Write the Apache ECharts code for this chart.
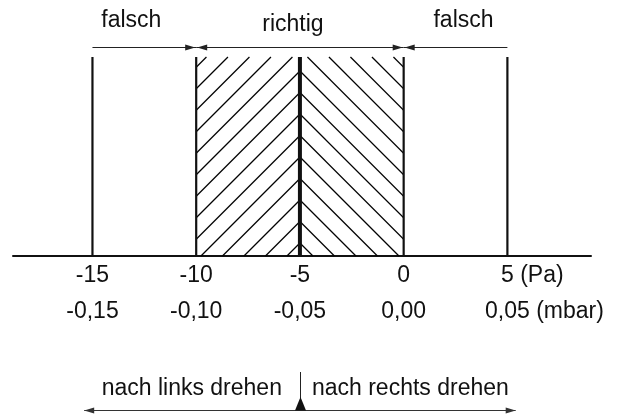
<!DOCTYPE html>
<html>
<head>
<meta charset="utf-8">
<script src="https://cdn.jsdelivr.net/npm/echarts@6/dist/echarts.min.js"></script>
<style>
  html, body { margin: 0; padding: 0; background: #fff; }
  #chart { width: 624px; height: 414px; }
</style>
</head>
<body>
<div id="chart"></div>
<script>
  // Druckwerte (Pa) der senkrechten Linien
  var boundaries = [-15, -10, -5, 0, 5];
  var centerValue = -5;
  var correctRange = [-10, 0];
  // Bereiche oben
  var zoneBounds = [-15, -10, 0, 5];
  var zoneNames = ['falsch', 'richtig', 'falsch'];
  // Achsenbeschriftung
  var paTicks = ['-15', '-10', '-5', '0', '5'];
  var mbarTicks = ['-0,15', '-0,10', '-0,05', '0,00', '0,05'];
  var paUnit = '(Pa)';
  var mbarUnit = '(mbar)';
  // Drehrichtung unten
  var dialRange = [-15.4, 5.4];
  var dialTexts = ['nach links drehen', 'nach rechts drehen'];

  var FONT = '"Liberation Sans", Arial, Helvetica, sans-serif';
  var FS = 23;
  var TXT = '#111';

  var measureCtx = document.createElement('canvas').getContext('2d');
  measureCtx.font = FS + 'px ' + FONT;
  function textWidth(s) { return measureCtx.measureText(s).width; }

  var chart = echarts.init(document.getElementById('chart'), null, {renderer: 'canvas'});

  function arrowHead(tipX, y, dir, color) {
    // dir: -1 zeigt nach links, 1 nach rechts
    var len = 10, half = 3;
    return {
      type: 'polygon',
      shape: {points: [[tipX, y], [tipX - dir * len, y - half], [tipX - dir * len, y + half]]},
      style: {fill: color}
    };
  }

  // Schraffur: links '/', rechts '\', Spitzen auf der Mittellinie
  function renderHatch(params, api) {
    var p0 = api.coord([api.value(0), 0]);
    var p1 = api.coord([api.value(1), 10]);
    var dir = api.value(2);
    var left = p0[0], right = p1[0], top = p1[1], bottom = p0[1];
    var w = right - left, step = 21.5;
    var children = [];
    for (var yc = bottom - 13; yc > top - w; yc -= step) {
      var dMin = Math.max(0, top - yc), dMax = Math.min(w, bottom - yc);
      if (dMax <= dMin) continue;
      var xa, xb;
      if (dir > 0) { xa = right - dMin; xb = right - dMax; }
      else { xa = left + dMin; xb = left + dMax; }
      children.push({
        type: 'line',
        shape: {x1: xa, y1: yc + dMin, x2: xb, y2: yc + dMax},
        style: {stroke: '#000', lineWidth: 1.2}
      });
    }
    return {type: 'group', children: children};
  }

  function renderVertical(params, api) {
    var v = api.value(0);
    var a = api.coord([v, 0]);
    var b = api.coord([v, 10]);
    return {
      type: 'line',
      shape: {x1: a[0], y1: a[1], x2: b[0], y2: b[1]},
      style: {stroke: '#111', lineWidth: v === centerValue ? 4 : 2.2}
    };
  }

  var zoneNudge = [-13, -7, 8];
  function renderZone(params, api) {
    var i = params.dataIndex;
    var from = api.value(0), to = api.value(1);
    var a = api.coord([from, 10.5]);
    var b = api.coord([to, 10.5]);
    var y = Math.round(a[1]) + 0.5;
    var col = '#222';
    var children = [{
      type: 'line',
      shape: {x1: a[0], y1: y, x2: b[0], y2: y},
      style: {stroke: col, lineWidth: 1.2}
    }];
    if (from === correctRange[0] || from === correctRange[1]) children.push(arrowHead(a[0] + 1, y, -1, col));
    if (to === correctRange[0] || to === correctRange[1]) children.push(arrowHead(b[0] - 1, y, 1, col));
    children.push({
      type: 'text',
      x: (a[0] + b[0]) / 2 + zoneNudge[i],
      y: y - (zoneNames[i] === 'richtig' ? 23 : 27),
      style: {text: zoneNames[i], fontSize: FS, fontFamily: FONT, fill: TXT, align: 'center', verticalAlign: 'middle'}
    });
    return {type: 'group', children: children};
  }

  function tickText(x, y, num, unit) {
    var els = [{
      type: 'text', x: x, y: y,
      style: {text: num, fontSize: FS, fontFamily: FONT, fill: TXT, align: 'center', verticalAlign: 'middle'}
    }];
    if (unit) {
      els.push({
        type: 'text', x: x + textWidth(num) / 2 + textWidth(' '), y: y,
        style: {text: unit, fontSize: FS, fontFamily: FONT, fill: TXT, align: 'left', verticalAlign: 'middle'}
      });
    }
    return els;
  }

  function renderTicks(params, api) {
    var i = params.dataIndex;
    var p = api.coord([api.value(0), 0]);
    var last = i === boundaries.length - 1;
    var children = tickText(p[0], p[1] + 20, paTicks[i], last ? paUnit : null)
      .concat(tickText(p[0], p[1] + 56, mbarTicks[i], last ? mbarUnit : null));
    return {type: 'group', children: children};
  }

  function renderDial(params, api) {
    var c = api.coord([api.value(0), 0]);
    var xl = api.coord([dialRange[0], 0])[0];
    var xr = api.coord([dialRange[1], 0])[0];
    var lineY = c[1] + 154.5;
    var cx = Math.round(c[0]) + 0.5;
    var col = '#333';
    return {
      type: 'group',
      children: [
        {type: 'line', shape: {x1: xl, y1: lineY, x2: xr, y2: lineY}, style: {stroke: col, lineWidth: 1.2}},
        arrowHead(xl, lineY, -1, col),
        arrowHead(xr, lineY, 1, col),
        {type: 'line', shape: {x1: cx, y1: c[1] + 116, x2: cx, y2: c[1] + 142}, style: {stroke: '#222', lineWidth: 1}},
        {type: 'polygon', shape: {points: [[cx, c[1] + 141], [cx - 5.5, lineY], [cx + 5.5, lineY]]}, style: {fill: '#111'}},
        {type: 'text', x: c[0] - 18, y: c[1] + 133,
          style: {text: dialTexts[0], fontSize: FS, fontFamily: FONT, fill: TXT, align: 'right', verticalAlign: 'middle'}},
        {type: 'text', x: c[0] + 12, y: c[1] + 133,
          style: {text: dialTexts[1], fontSize: FS, fontFamily: FONT, fill: TXT, align: 'left', verticalAlign: 'middle'}}
      ]
    };
  }

  var hatchData = [
    [correctRange[0], centerValue, 1],
    [centerValue, correctRange[1], -1]
  ];
  var zoneData = zoneNames.map(function (n, i) { return [zoneBounds[i], zoneBounds[i + 1]]; });

  var option = {
    animation: false,
    grid: {left: 13, right: 33, top: 57, bottom: 158},
    xAxis: {
      type: 'value',
      min: -18.83,
      max: 9.03,
      axisLine: {show: true, onZero: false, lineStyle: {color: '#111', width: 2}},
      axisTick: {show: false},
      axisLabel: {show: false},
      splitLine: {show: false}
    },
    yAxis: {
      type: 'value',
      min: 0,
      max: 10,
      show: false
    },
    series: [
      {type: 'custom', clip: false, renderItem: renderHatch, data: hatchData, silent: true},
      {type: 'custom', clip: false, renderItem: renderVertical, data: boundaries.map(function (v) { return [v, 0]; }), silent: true},
      {type: 'custom', clip: false, renderItem: renderZone, data: zoneData, silent: true},
      {type: 'custom', clip: false, renderItem: renderTicks, data: boundaries.map(function (v) { return [v, 0]; }), silent: true},
      {type: 'custom', clip: false, renderItem: renderDial, data: [[centerValue, 0]], silent: true}
    ]
  };
  chart.setOption(option);
</script>
</body>
</html>
